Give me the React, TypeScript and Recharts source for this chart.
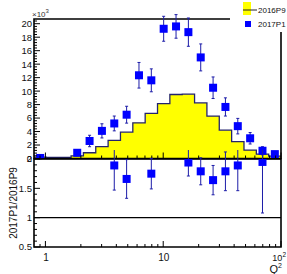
import {
  Area,
  ComposedChart,
  ErrorBar,
  Legend,
  ReferenceArea,
  ReferenceLine,
  Scatter,
  XAxis,
  YAxis,
} from 'recharts'

// Q2 binning: 20 log bins between 0.8 and 100
const binEdges = [
  0.8, 1.019, 1.297, 1.651, 2.102, 2.675, 3.406, 4.336, 5.521, 7.028, 8.948, 11.39, 14.5, 18.46, 23.5,
  29.92, 38.1, 48.5, 61.74, 78.6, 100,
]
const binCenters = [
  0.903, 1.149, 1.463, 1.862, 2.371, 3.018, 3.842, 4.891, 6.227, 7.927, 10.09, 12.85, 16.36, 20.82,
  26.51, 33.75, 42.97, 54.7, 69.64, 88.65,
]

const seriesNames = ['2016P9', '2017P1']

// 2016P9 histogram, x10^3 entries per bin
const hist2016 = [
  0.2, 0.15, 0.15, 0.4, 0.85, 1.75, 2.7, 3.9, 5.3, 6.7, 8.15, 9.5, 9.55, 8.25, 6.3, 4.2, 2.5, 1.25, 0.65,
  0.35,
]

// 2017P1 points, x10^3 (null = empty bin)
const val2017 = [
  0.08, null, null, 0.85, 2.6, 4.1, 5.2, 6.5, 12.35, 11.6, 19.25, 19.6, 18.75, 15.0, 10.5, 7.65, 4.8, 3.0,
  1.15, 0.65,
]
const err2017 = [
  0.14, null, null, 0.45, 0.85, 1.05, 1.1, 1.25, 1.9, 1.7, 1.85, 1.75, 2.1, 2.0, 1.6, 1.35, 1.15, 0.85,
  0.6, 0.4,
]

// ratio 2017P1/2016P9, only the bins that fall inside 0.5..2
const ratioVal = [
  null, null, null, null, null, null, 1.89, 1.66, null, 1.75, null, null, 1.94, 1.79, 1.64, 1.79, 1.89,
  null, 1.95, null,
]
const ratioErr = [
  null, null, null, null, null, null, 0.42, 0.33, null, 0.26, null, null, 0.23, 0.23, 0.25, 0.33, 0.43,
  null, 0.87, null,
]

const xMajorTicks = [1, 10, 100]
const xTickLabels = ['1', '10', '10^2']
const xMinorTicks = [0.9, 2, 3, 4, 5, 6, 7, 8, 9, 20, 30, 40, 50, 60, 70, 80, 90]
const topMajorTicks = [0, 2, 4, 6, 8, 10, 12, 14, 16, 18, 20]
const ratioMajorTicks = [0.5, 1, 1.5, 2]

const FONT = '"Liberation Sans", Arial, Helvetica, sans-serif'
const BLUE = '#0000ff'
const ERR = '#1d1da8'

const steps = (from: number, to: number, step: number) => {
  const out: number[] = []
  for (let v = from; v <= to + 1e-9; v += step) out.push(Math.round(v * 100) / 100)
  return out
}
const xTicks = [...xMajorTicks, ...xMinorTicks].sort((a, b) => a - b)
const topTicks = steps(0, 20.4, 0.4)
const ratioTicks = steps(0.5, 2, 0.1)

const histData = binEdges.map((x, i) => ({ x, h: hist2016[Math.min(i, hist2016.length - 1)] }))
const pts2017 = binCenters
  .map((x, i) => ({ x, y: val2017[i], e: err2017[i] }))
  .filter((p) => p.y != null)
const ratioPts = binCenters
  .map((x, i) => ({ x, y: ratioVal[i], e: ratioErr[i] }))
  .filter((p) => p.y != null)

const square = (props: any) => (
  <rect x={props.cx - 4} y={props.cy - 4} width={8} height={8} fill={BLUE} />
)

function xTick(showLabels: boolean) {
  return (props: any) => {
    const { x, y, payload } = props
    const i = xMajorTicks.indexOf(payload.value)
    const label = i >= 0 ? xTickLabels[i] : null
    const [base, sup] = label ? label.split('^') : []
    return (
      <g>
        <line x1={x} x2={x} y1={y} y2={y - (i >= 0 ? 6 : 3)} stroke="#000" />
        {showLabels && label && (
          <text
            x={sup ? x + 5 : x + 0.5}
            y={y + 14}
            textAnchor={sup ? 'end' : 'middle'}
            fontSize={sup ? 9 : 10}
            fill="#111"
            fontFamily={FONT}
          >
            {base}
            {sup && (
              <tspan dy={-4} fontSize={6.5}>
                {sup}
              </tspan>
            )}
          </text>
        )}
      </g>
    )
  }
}

function yTick(major: number[]) {
  return (props: any) => {
    const { x, y, payload } = props
    const isMajor = major.includes(payload.value)
    return (
      <g>
        <line x1={x} x2={x + (isMajor ? 6 : 3)} y1={y} y2={y} stroke="#000" />
        {isMajor && (
          <text x={x - 2} y={y + 3.4} textAnchor="end" fontSize={9.5} fill="#111" fontFamily={FONT}>
            {String(payload.value)}
          </text>
        )}
      </g>
    )
  }
}

const LegendBox = () => (
  <div style={{ width: 57, height: 32, background: '#fff' }}>
    <svg width={57} height={32} style={{ display: 'block' }}>
      <rect x={13} y={2} width={8} height={13} fill="#ffff00" />
      <line x1={13} x2={27} y1={10} y2={10} stroke="#222" />
      <text x={28} y={12.8} fontSize={8} fontFamily={FONT} fill="#111">
        {seriesNames[0]}
      </text>
      <rect x={15} y={21} width={6} height={6} fill={BLUE} />
      <text x={28} y={26.8} fontSize={8} fontFamily={FONT} fill="#111">
        {seriesNames[1]}
      </text>
    </svg>
  </div>
)

export default function App() {
  return (
    <div
      style={{ position: 'absolute', left: 0, top: 0, width: 287, height: 274, background: '#fff', fontFamily: FONT }}
    >
      <div style={{ position: 'absolute', left: 0, top: 0 }}>
        <ComposedChart width={287} height={168} data={histData} margin={{ top: 19, right: 6, bottom: 8.5, left: 33 }}>
          <XAxis
            dataKey="x"
            type="number"
            scale="log"
            domain={[0.8, 100]}
            allowDataOverflow
            ticks={xTicks}
            interval={0}
            height={1}
            tickSize={0}
            tickMargin={0}
            axisLine={false}
            tickLine={false}
            tick={xTick(false)}
          />
          <YAxis
            type="number"
            domain={[0, 20.7]}
            allowDataOverflow
            ticks={topTicks}
            interval={0}
            width={1}
            tickSize={0}
            tickMargin={0}
            axisLine={false}
            tickLine={false}
            tick={yTick(topMajorTicks)}
          />
          <Area
            type="stepAfter"
            dataKey="h"
            stroke="#23236e"
            strokeWidth={1.3}
            fill="#ffff00"
            fillOpacity={1}
            dot={false}
            activeDot={false}
            isAnimationActive={false}
          />
          <Scatter data={pts2017} dataKey="y" shape={square} isAnimationActive={false}>
            <ErrorBar dataKey="e" direction="y" width={1.5} stroke={ERR} strokeWidth={1} />
          </Scatter>
          <ReferenceArea x1={0.8} x2={100} y1={0} y2={20.7} fill="none" stroke="#000" strokeWidth={1.6} ifOverflow="visible" />
          <Legend
            layout="vertical"
            align="center"
            verticalAlign="middle"
            content={LegendBox}
            wrapperStyle={{ position: 'absolute', left: 230, top: 0, width: 57, height: 32 }}
          />
        </ComposedChart>
      </div>

      <div style={{ position: 'absolute', left: 0, top: 150 }}>
        <ComposedChart width={287} height={124} margin={{ top: 9, right: 6, bottom: 26, left: 33 }}>
          <XAxis
            dataKey="x"
            type="number"
            scale="log"
            domain={[0.8, 100]}
            allowDataOverflow
            ticks={xTicks}
            interval={0}
            height={1}
            tickSize={0}
            tickMargin={0}
            axisLine={false}
            tickLine={false}
            tick={xTick(true)}
          />
          <YAxis
            type="number"
            domain={[0.5, 2]}
            allowDataOverflow
            ticks={ratioTicks}
            interval={0}
            width={1}
            tickSize={0}
            tickMargin={0}
            axisLine={false}
            tickLine={false}
            tick={yTick(ratioMajorTicks)}
          />
          <ReferenceLine y={1} stroke="#000" strokeWidth={1.3} />
          <Scatter data={ratioPts} dataKey="y" shape={square} isAnimationActive={false}>
            <ErrorBar dataKey="e" direction="y" width={1.5} stroke={ERR} strokeWidth={1} />
          </Scatter>
          <ReferenceArea x1={0.8} x2={100} y1={0.5} y2={2} fill="none" stroke="#000" strokeWidth={1.6} ifOverflow="visible" />
        </ComposedChart>
      </div>

      <svg width={287} height={274} style={{ position: 'absolute', left: 0, top: 0, pointerEvents: 'none' }}>
        <text x={32} y={17} fontSize={8} fill="#333" fontFamily={FONT}>
          ×10
          <tspan dy={-4} fontSize={6}>
            3
          </tspan>
        </text>
        <text
          x={16.5}
          y={203}
          transform="rotate(-90 16.5 203)"
          textAnchor="middle"
          fontSize={10}
          fill="#111"
          fontFamily={FONT}
        >
          2017P1/2016P9
        </text>
        <text x={282} y={273} textAnchor="end" fontSize={11} fill="#111" fontFamily={FONT}>
          Q
          <tspan dy={-5} fontSize={7}>
            2
          </tspan>
        </text>
      </svg>
    </div>
  )
}
